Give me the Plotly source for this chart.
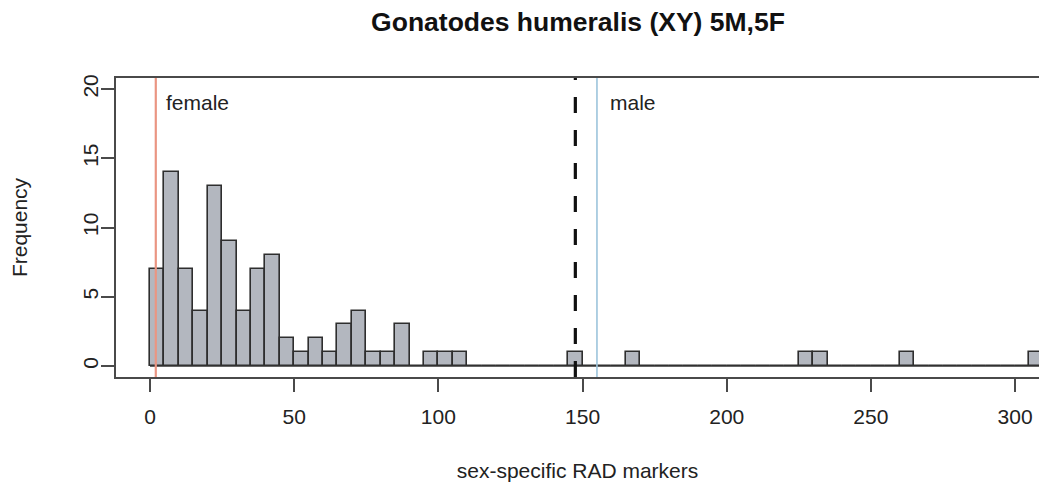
import plotly.graph_objects as go

# ---- data ----
bin_width = 5
bin_start = 0
counts = [7, 14, 7, 4, 13, 9, 4, 7, 8, 2,
          1, 2, 1, 3, 4, 1, 1, 3, 0, 1,
          1, 1, 0, 0, 0, 0, 0, 0, 0, 1,
          0, 0, 0, 1, 0, 0, 0, 0, 0, 0,
          0, 0, 0, 0, 0, 1, 1, 0, 0, 0,
          0, 0, 1, 0, 0, 0, 0, 0, 0, 0,
          0, 1]
female_x = 2
cutoff_x = 147.5
male_x = 155
x_ticks = [0, 50, 100, 150, 200, 250, 300]
y_ticks = [0, 5, 10, 15, 20]
title_text = "Gonatodes humeralis (XY) 5M,5F"
x_title = "sex-specific RAD markers"
y_title = "Frequency"

edges = [bin_start + i * bin_width for i in range(len(counts) + 1)]
centers = [e + bin_width / 2 for e in edges[:-1]]

FONT = "Liberation Sans, Arial, Helvetica, sans-serif"
AX = "#4a4a4a"

fig = go.Figure()
fig.add_trace(go.Scatter(x=[edges[0], edges[-1]], y=[0, 0], mode="lines",
                         line=dict(color="#333333", width=1.5),
                         hoverinfo="skip", showlegend=False))
fig.add_trace(go.Bar(x=centers, y=counts, width=bin_width,
                     marker=dict(color="#b3b7bf",
                                 line=dict(color="#2e2e2e", width=1.6)),
                     showlegend=False))

fig.add_shape(type="line", x0=female_x, x1=female_x, y0=0, y1=1,
              xref="x", yref="paper", line=dict(color="#ea9582", width=2.2))
fig.add_shape(type="line", x0=male_x, x1=male_x, y0=0, y1=1,
              xref="x", yref="paper", line=dict(color="#9cc4dc", width=1.6))
fig.add_shape(type="line", x0=cutoff_x, x1=cutoff_x, y0=0, y1=1,
              xref="x", yref="paper", line=dict(color="#111111", width=3.2, dash="16px,17px"))

fig.add_annotation(x=female_x, y=19, xref="x", yref="y", text="female",
                   showarrow=False, xanchor="left", yanchor="middle", xshift=8,
                   font=dict(family=FONT, size=21, color="#222222"))
fig.add_annotation(x=male_x, y=19, xref="x", yref="y", text="male",
                   showarrow=False, xanchor="left", yanchor="middle", xshift=11,
                   font=dict(family=FONT, size=21, color="#222222"))

fig.update_layout(
    width=1039, height=485,
    margin=dict(l=116, r=0, t=78, b=108, autoexpand=False),
    paper_bgcolor="white", plot_bgcolor="white",
    bargap=0,
    title=dict(text=f"<b>{title_text}</b>", x=578 / 1039, xref="container", xanchor="center",
               y=1 - 22 / 485, yref="container", yanchor="middle",
               font=dict(family=FONT, size=26.5, color="#111111")),
    font=dict(family=FONT, size=21, color="#222222"),
)
fig.update_xaxes(range=[-11.8, 308.3], tickvals=x_ticks, ticks="outside", ticklen=13,
                 tickwidth=1.5, tickcolor=AX, showline=True, linecolor=AX, linewidth=2,
                 mirror=True, showgrid=False, zeroline=False, ticklabelstandoff=7,
                 automargin=False,
                 title=dict(text=x_title, standoff=36, font=dict(size=21)),
                 tickfont=dict(size=21, color="#222222"))
fig.update_yaxes(range=[-0.8, 20.8], tickvals=y_ticks, ticks="outside", ticklen=13,
                 tickwidth=1.5, tickcolor=AX, showline=True, linecolor=AX, linewidth=2,
                 mirror=False, showgrid=False, zeroline=False, tickangle=-90,
                 ticklabelstandoff=-5, automargin=False,
                 title=dict(text=y_title, standoff=45, font=dict(size=21)),
                 tickfont=dict(size=21, color="#222222"))

fig.write_html("out.html", config={"displayModeBar": False},
               post_script="document.body.style.margin='0';document.body.style.overflow='hidden';")
